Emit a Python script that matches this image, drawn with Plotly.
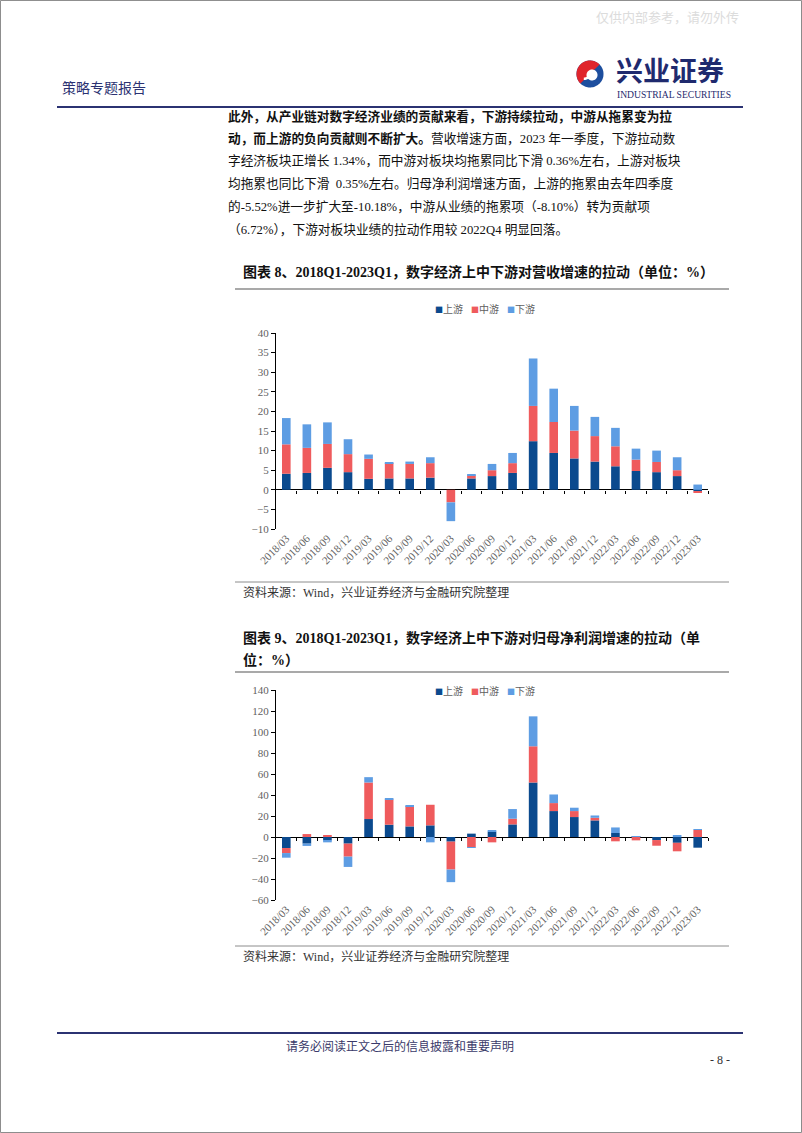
import numpy as np
import plotly.graph_objects as go

W, H = 802, 1133

# ---------------- data ----------------
categories = ["2018/03", "2018/06", "2018/09", "2018/12", "2019/03", "2019/06", "2019/09",
              "2019/12", "2020/03", "2020/06", "2020/09", "2020/12", "2021/03", "2021/06",
              "2021/09", "2021/12", "2022/03", "2022/06", "2022/09", "2022/12", "2023/03"]
series_names = ["上游", "中游", "下游"]

# 图表8 营收增速拉动 (%)
rev_up = [4.1, 4.3, 5.6, 4.5, 2.8, 2.9, 2.9, 3.1, 0.0, 2.9, 3.5, 4.3, 12.4, 9.4, 8.0, 7.2, 6.0, 4.8, 4.5, 3.5, -0.35]
rev_mid = [7.5, 6.4, 6.1, 4.6, 5.1, 3.9, 3.7, 3.7, -3.2, 0.8, 1.5, 2.5, 9.0, 7.9, 7.1, 6.5, 5.1, 2.9, 2.6, 1.5, -0.36]
rev_down = [6.7, 6.0, 5.5, 3.8, 1.1, 0.1, 0.6, 1.5, -4.8, 0.1, 1.6, 2.6, 12.1, 8.5, 6.3, 4.9, 4.7, 2.8, 2.9, 3.3, 1.34]

# 图表9 归母净利润增速拉动 (%)
np_up = [-10.5, -6.3, -3.2, -6.3, 17.1, 11.7, 10.1, 11.1, -4.4, 3.2, 5.1, 12.0, 51.9, 24.7, 19.0, 15.8, 3.8, 0.3, -2.9, -5.52, -10.18]
np_mid = [-4.8, 2.8, 1.9, -12.4, 34.8, 24.1, 19.3, 19.6, -26.6, -9.8, -5.1, 5.4, 34.5, 7.6, 5.7, 2.5, -4.1, -3.2, -5.4, -8.10, 6.72]
np_down = [-4.4, -2.2, -1.9, -9.8, 5.1, 1.3, 1.0, -5.1, -12.0, -0.6, 1.3, 9.2, 28.5, 8.2, 3.2, 2.2, 5.3, 0.5, 0.0, 1.9, 0.6]

rev_ticks = [-10, -5, 0, 5, 10, 15, 20, 25, 30, 35, 40]
np_ticks = [-60, -40, -20, 0, 20, 40, 60, 80, 100, 120, 140]

# ---------------- styles ----------------
colors = ["#0B4A8E", "#EF5B5D", "#5E9DE3"]
NAVY = "#2B3272"
SERIF = "Liberation Serif, Noto Sans CJK SC"
TICKGRAY = "#5f5f5f"


def px(x):
    return x / W


def py(y):
    return 1 - y / H


fig = go.Figure()

charts = [
    dict(vals=[rev_up, rev_mid, rev_down], ticks=rev_ticks, rng=[-10, 40], top=333, bot=529, ax="", tax="3"),
    dict(vals=[np_up, np_mid, np_down], ticks=np_ticks, rng=[-60, 140], top=690, bot=900, ax="2", tax="4"),
]

X0, X1 = 276, 708
n = len(categories)
for ch in charts:
    for name, vals, c in zip(series_names, ch["vals"], colors):
        fig.add_trace(go.Bar(x=categories, y=vals, name=name, marker=dict(color=c, line=dict(width=0)),
                             xaxis="x" + ch["ax"], yaxis="y" + ch["ax"], showlegend=False))
    # empty trace hosting the tick axis drawn along the zero line
    fig.add_trace(go.Scatter(x=[None], y=[None], xaxis="x" + ch["tax"], yaxis="y" + ch["ax"],
                             showlegend=False, hoverinfo="skip"))

common_x = dict(showgrid=False, zeroline=False, showline=False, ticks="", tickangle=-45, automargin=False,
                tickfont=dict(family=SERIF, size=11, color=TICKGRAY), domain=[px(X0), px(X1)])
common_y = dict(showgrid=False, zeroline=True, zerolinecolor="black", zerolinewidth=1, automargin=False,
                showline=True, linecolor="black", linewidth=1, ticks="outside", ticklen=4,
                tickcolor="black", tickfont=dict(family=SERIF, size=11, color=TICKGRAY))

layout_axes = {}
for ch in charts:
    d0, d1 = py(ch["bot"]), py(ch["top"])
    lo, hi = ch["rng"]
    zero_pos = d0 + (0 - lo) / (hi - lo) * (d1 - d0)
    layout_axes["xaxis" + ch["ax"]] = dict(common_x, anchor="y" + ch["ax"], type="category",
                                           categoryorder="array", categoryarray=categories,
                                           range=[-0.5, n - 0.5])
    layout_axes["yaxis" + ch["ax"]] = dict(common_y, anchor="x" + ch["ax"], domain=[d0, d1],
                                           range=[lo, hi], tickvals=ch["ticks"])
    layout_axes["xaxis" + ch["tax"]] = dict(overlaying="x" + ch["ax"], anchor="free", position=zero_pos,
                                            type="linear", range=[-0.5, n - 0.5], automargin=False,
                                            tickvals=list(np.arange(n) + 0.5), showticklabels=False,
                                            ticks="outside", ticklen=3, tickcolor="black",
                                            showgrid=False, zeroline=False, showline=False,
                                            domain=[px(X0), px(X1)])

fig.update_layout(template="none", width=W, height=H, margin=dict(l=0, r=0, t=0, b=0, pad=0, autoexpand=False),
                  paper_bgcolor="white", plot_bgcolor="rgba(0,0,0,0)",
                  barmode="relative", bargap=0.58, showlegend=False, **layout_axes)

shapes = []
annotations = []


def hline(y, x0, x1, color, width):
    shapes.append(dict(type="line", xref="paper", yref="paper", x0=px(x0), x1=px(x1), y0=py(y), y1=py(y),
                       line=dict(color=color, width=width)))


def text(x, y, s, size, color="#000000", family=SERIF, xanchor="left"):
    annotations.append(dict(x=px(x), y=py(y), xref="paper", yref="paper", text=s, showarrow=False,
                            xanchor=xanchor, yanchor="middle", align=xanchor if xanchor != "center" else "center",
                            font=dict(family=family, size=size, color=color), borderpad=0))


# page border
shapes.append(dict(type="rect", xref="paper", yref="paper", x0=0.0006, x1=0.9994, y0=0.0004, y1=0.9996,
                   line=dict(color="#8a8a8a", width=1)))

# header
text(740, 16, "仅供内部参考，请勿外传", 13, "#dcdcdc", "Noto Sans CJK SC", "right")
text(61, 87, "策略专题报告", 14, NAVY, "Noto Sans CJK SC")
hline(107, 57, 743, NAVY, 2)

# logo
cx, cy, r = 590, 74, 13.5
t = np.linspace(0, 2 * np.pi, 80)


def poly(points):
    return "M " + " L ".join(f"{px(a):.5f},{py(b):.5f}" for a, b in points) + " Z"


circle = [(cx + r * np.cos(a), cy + r * np.sin(a)) for a in t]
shapes.append(dict(type="path", xref="paper", yref="paper", path=poly(circle), fillcolor="#1D4E9E", line=dict(width=0)))
ang = np.linspace(np.pi * 0.75, np.pi * 1.75, 60)
red_half = [(cx + r * np.cos(a), cy + r * np.sin(a)) for a in ang]
shapes.append(dict(type="path", xref="paper", yref="paper", path=poly(red_half), fillcolor="#E0242C", line=dict(width=0)))
inner = [(cx + 2 + 5.5 * np.cos(a), cy + 1 + 5.5 * np.sin(a)) for a in t]
shapes.append(dict(type="path", xref="paper", yref="paper", path=poly(inner), fillcolor="white", line=dict(width=0)))
swirl = [(cx - 6 + 8 * np.cos(a), cy - 2 + 8 * np.sin(a)) for a in np.linspace(-0.2, 1.6, 20)]
swirl2 = [(cx - 6 + 5.5 * np.cos(a), cy - 2 + 5.5 * np.sin(a)) for a in np.linspace(1.6, -0.2, 20)]
shapes.append(dict(type="path", xref="paper", yref="paper", path=poly(swirl + swirl2), fillcolor="white", line=dict(width=0)))

text(615, 69, "<b>兴业证券</b>", 27, "#1F2A6E", "Noto Sans CJK SC")
text(616, 94.5, "INDUSTRIAL SECURITIES", 9.6, "#1F2A6E", "Liberation Serif")

# paragraph
para = [
    "<b>此外，从产业链对数字经济业绩的贡献来看，下游持续拉动，中游从拖累变为拉</b>",
    "<b>动，而上游的负向贡献则不断扩大。</b>营收增速方面，2023 年一季度，下游拉动数",
    "字经济板块正增长 1.34%，而中游对板块均拖累同比下滑 0.36%左右，上游对板块",
    "均拖累也同比下滑  0.35%左右。归母净利润增速方面，上游的拖累由去年四季度",
    "的-5.52%进一步扩大至-10.18%，中游从业绩的拖累项（-8.10%）转为贡献项",
    "（6.72%），下游对板块业绩的拉动作用较 2022Q4 明显回落。",
]
for i, s in enumerate(para):
    text(227, 116 + i * 22.6, s, 12.7, "#111111")

# chart 8 title
text(242, 272, "<b>图表 8、2018Q1-2023Q1，数字经济上中下游对营收增速的拉动（单位：%）</b>", 14, "#111111")
hline(289, 235, 729, "#8c8c8c", 1.5)
for name, c, x in zip(series_names, colors, [434, 470, 506]):
    text(x, 308, f"<span style='color:{c};font-size:8px'>■</span>{name}", 10, TICKGRAY, "Noto Sans CJK SC")
hline(582, 235, 729, "#8c8c8c", 1)
text(242, 592, "资料来源：Wind，兴业证券经济与金融研究院整理", 12, "#333333")

# chart 9 title
text(242, 638, "<b>图表 9、2018Q1-2023Q1，数字经济上中下游对归母净利润增速的拉动（单</b>", 14, "#111111")
text(242, 660, "<b>位：%）</b>", 14, "#111111")
hline(672, 235, 729, "#8c8c8c", 1.5)
for name, c, x in zip(series_names, colors, [434, 470, 506]):
    text(x, 690, f"<span style='color:{c};font-size:8px'>■</span>{name}", 10, TICKGRAY, "Noto Sans CJK SC")
hline(946, 235, 729, "#8c8c8c", 1)
text(242, 956, "资料来源：Wind，兴业证券经济与金融研究院整理", 12, "#333333")

# footer
hline(1033, 57, 743, NAVY, 2)
text(400, 1045, "请务必阅读正文之后的信息披露和重要声明", 12, "#3A3A6A", "Noto Sans CJK SC", "center")
text(731, 1060, "- 8 -", 12, "#333333", "Liberation Serif", "right")

fig.update_layout(shapes=shapes, annotations=annotations)
fig.write_html("out.html")
